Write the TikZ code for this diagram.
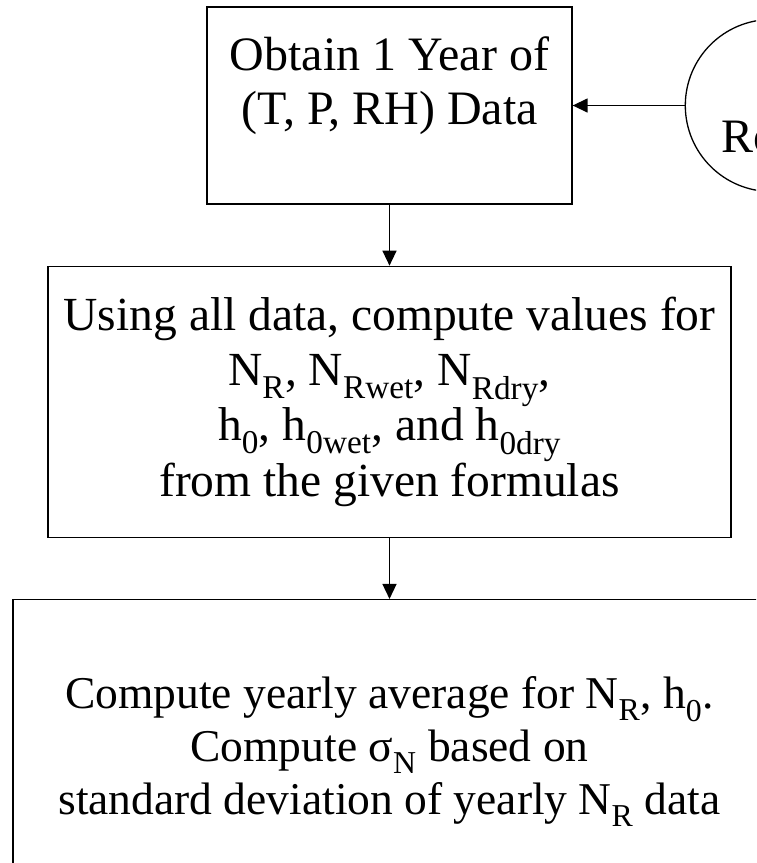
\documentclass[tikz,border=0pt]{standalone}
\usepackage{fontspec}
\setmainfont{Liberation Serif}
\usetikzlibrary{shapes,arrows.meta,positioning}
\tikzset{databox/.style={rectangle, draw, line width=1.3pt, fill=white, align=center, minimum width=365pt, minimum height=197pt, inner sep=0pt, font=\fontsize{48}{54}\selectfont}}
\tikzset{computebox/.style={rectangle, draw, line width=1.3pt, fill=white, align=center, minimum width=683pt, minimum height=271pt, inner sep=0pt, font=\fontsize{47.5}{55}\selectfont}}
\tikzset{avgbox/.style={rectangle, draw, line width=1.3pt, fill=white, align=center, minimum width=753pt, minimum height=304pt, inner sep=0pt, font=\fontsize{45.5}{53}\selectfont}}
\tikzset{source/.style={circle, draw, line width=1.3pt, minimum size=172pt, inner sep=0pt}}
\tikzset{line/.style={draw, line width=1.4pt, -{Triangle[length=15pt,width=14pt]}}}

\begin{document}
\begin{tikzpicture}[x=1pt, y=-1pt, node distance=61pt]
        \useasboundingbox (0,0) rectangle (756,863);
        \clip (0,0) rectangle (756,863);
        \node[databox, text height=33pt, text depth=104pt] (obt) at (389.5,105.5) {\begin{tabular}[t]{@{}c@{}}Obtain 1 Year of\\(T, P, RH) Data\end{tabular}};
        \node[source, right=112pt of obt] (rec) {};
        \node[anchor=base west, inner sep=0pt, font=\fontsize{48}{54}\selectfont] (rectxt) at ([xshift=-50pt, yshift=-47pt]rec.center) {Ro};
        \node[computebox, below=of obt] (comp) {Using all data, compute values for\\N\textsubscript{R}, N\textsubscript{Rwet}, N\textsubscript{Rdry},\\h\textsubscript{0}, h\textsubscript{0wet}, and h\textsubscript{0dry}\\from the given formulas};
        \node[avgbox, below=of comp] (avg) {Compute yearly average for N\textsubscript{R}, h\textsubscript{0}.\\Compute σ\textsubscript{N} based on\\standard deviation of yearly N\textsubscript{R} data};

        \path[line] (rec) --          (obt);
        \path[line] (obt) --          (comp);
        \path[line] (comp) --         (avg);
      \end{tikzpicture}
\end{document}
